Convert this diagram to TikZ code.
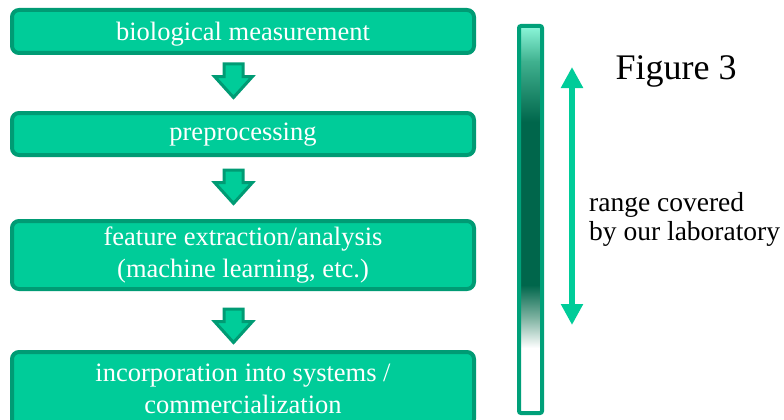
\documentclass[tikz,border=0pt]{standalone}
\usepackage{fontspec}
\setmainfont{Liberation Serif}
\usetikzlibrary{arrows.meta,calc}

\definecolor{boxfill}{HTML}{00CC99}
\definecolor{boxline}{HTML}{009B74}
\definecolor{barline}{HTML}{00A079}
\definecolor{mint}{HTML}{8CF7DA}
\definecolor{midgreen}{HTML}{3FB08E}
\definecolor{deepgreen}{HTML}{00664B}
\definecolor{fadegreen}{HTML}{7FB3A2}

\tikzset{
  stage/.style={draw=boxline, line width=4pt, fill=boxfill, rounded corners=7pt,
    minimum width=462pt, text=white, align=center, inner sep=0pt,
    font=\fontsize{26.5}{32}\selectfont},
  blockarrow/.style={draw=boxline, line width=3pt, fill=boxfill, line join=miter},
  spanarrow/.style={draw=boxfill, line width=6pt,
    {Triangle[length=21pt,width=21pt]}-{Triangle[length=21pt,width=21pt]}},
  sidetext/.style={inner sep=0pt, align=left}
}

% downward block arrow, drawn around its centre
\tikzset{pics/downarrow/.style={code={
  \path[blockarrow] (-9.5,-17.5) -- (9.5,-17.5) -- (9.5,-5) -- (19,-5) -- (0,16)
     -- (-19,-5) -- (-9.5,-5) -- cycle;
}}}

\begin{document}
\begin{tikzpicture}[x=1pt,y=-1pt]
\useasboundingbox (0,0) rectangle (784,420);
\clip (0,0) rectangle (784,420);

% process stages
\node[stage, minimum height=43pt, text height=20pt, text depth=2pt] (meas) at (243,31.5)
  {biological measurement};
\node[stage, minimum height=42pt, text height=17pt, text depth=4pt] (prep) at (243,134)
  {preprocessing};
\node[stage, minimum height=68pt] (feat) at (243,255)
  {feature extraction/analysis\\(machine learning, etc.)};
\node[stage, minimum height=74pt] (incl) at (243,389)
  {incorporation into systems /\\commercialization};

% block arrows between the stages
\pic at (233.5,81.5) {downarrow};
\pic at (233.5,187.5) {downarrow};
\pic at (233.5,326.5) {downarrow};

% graded bar
\shade[top color=mint, bottom color=midgreen] (519,26) rectangle (542,62);
\shade[top color=midgreen, bottom color=deepgreen] (519,62) rectangle (542,122);
\fill[deepgreen] (519,122) rectangle (542,285);
\shade[top color=deepgreen, bottom color=fadegreen] (519,285) rectangle (542,318);
\shade[top color=fadegreen, bottom color=white] (519,318) rectangle (542,348);
\fill[white] (519,348) rectangle (542,413);
\draw[barline, line width=4pt, rounded corners=2pt] (519,26) rectangle (542,413);

% covered range
\coordinate (rtop) at (572,67);
\coordinate (rbot) at (572,325);
\draw[spanarrow] (rtop) -- (rbot);

\node[sidetext, font=\fontsize{36}{40}\selectfont, anchor=base] (fig) at (676,80) {Figure 3};
\node[sidetext, font=\fontsize{27.5}{29}\selectfont, anchor=base west] (rng1) at (589,211) {range covered};
\node[sidetext, font=\fontsize{27.5}{29}\selectfont, anchor=base west] (rng2) at (589,240) {by our laboratory};
\end{tikzpicture}
\end{document}
